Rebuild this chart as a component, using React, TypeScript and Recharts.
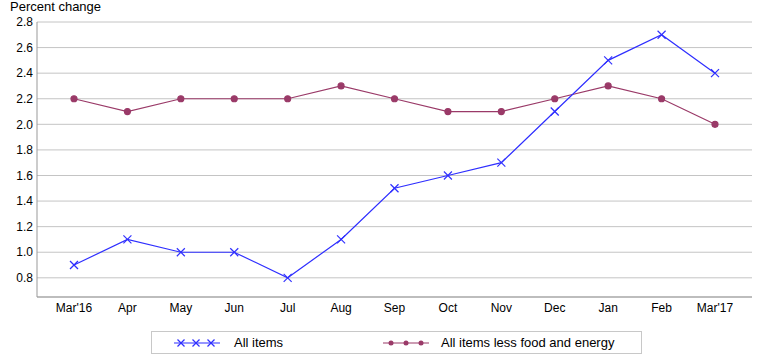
import { LineChart, Line, XAxis, YAxis, CartesianGrid } from 'recharts';

const months = ["Mar'16", 'Apr', 'May', 'Jun', 'Jul', 'Aug', 'Sep', 'Oct', 'Nov', 'Dec', 'Jan', 'Feb', "Mar'17"];
const allItems = [0.9, 1.1, 1.0, 1.0, 0.8, 1.1, 1.5, 1.6, 1.7, 2.1, 2.5, 2.7, 2.4];
const coreItems = [2.2, 2.1, 2.2, 2.2, 2.2, 2.3, 2.2, 2.1, 2.1, 2.2, 2.3, 2.2, 2.0];
const yTicks = [0.8, 1.0, 1.2, 1.4, 1.6, 1.8, 2.0, 2.2, 2.4, 2.6, 2.8];

const data = months.map((m, i) => ({ month: m, all: allItems[i], core: coreItems[i] }));

const BLUE = '#2f2fff';
const MAROON = '#9a3a68';
const GRID = '#c4c4c4';
const FONT = '"Liberation Sans", Arial, sans-serif';

const XMark = (props: any) => {
    const { cx, cy } = props;
    if (cx == null || cy == null) return null;
    return (
        <g key={`x-${cx}`}>
            <line x1={cx - 4} y1={cy - 4} x2={cx + 4} y2={cy + 4} stroke={BLUE} strokeWidth={1.2} />
            <line x1={cx - 4} y1={cy + 4} x2={cx + 4} y2={cy - 4} stroke={BLUE} strokeWidth={1.2} />
        </g>
    );
};

export default function App() {
    return (
        <div style={{ position: 'absolute', left: 0, top: 0, width: 775, height: 359, background: '#fff', fontFamily: FONT }}>
            <div style={{ position: 'absolute', left: 10, top: -1, fontSize: 13, color: '#000' }}>Percent change</div>
            <LineChart width={775} height={359} data={data} margin={{ top: 22, right: 23, left: 0, bottom: 32 }}>
                <CartesianGrid vertical={false} stroke={GRID} />
                <XAxis
                    dataKey="month"
                    padding={{ left: 37, right: 37 }}
                    tickLine={false}
                    tickSize={0}
                    tickMargin={6}
                    height={30}
                    axisLine={{ stroke: '#999' }}
                    tick={{ fill: '#000', fontSize: 12, fontFamily: FONT }}
                    interval={0}
                />
                <YAxis
                    domain={[0.65, 2.8]}
                    allowDataOverflow
                    ticks={yTicks}
                    width={37}
                    tickLine={false}
                    tickSize={0}
                    tickMargin={4}
                    axisLine={{ stroke: '#999' }}
                    tickFormatter={(v: number) => v.toFixed(1)}
                    tick={{ fill: '#000', fontSize: 12, fontFamily: FONT }}
                />
                <YAxis yAxisId="right" orientation="right" width={0} tick={false} tickLine={false} axisLine={{ stroke: '#999' }} />
                <Line
                    dataKey="core"
                    stroke={MAROON}
                    strokeWidth={1.2}
                    dot={{ r: 3, fill: MAROON, stroke: MAROON }}
                    isAnimationActive={false}
                />
                <Line
                    dataKey="all"
                    stroke={BLUE}
                    strokeWidth={1.2}
                    dot={XMark}
                    isAnimationActive={false}
                />
            </LineChart>
            <div
                style={{
                    position: 'absolute',
                    left: 151,
                    top: 331,
                    width: 489,
                    height: 21,
                    border: '1px solid #c8c8c8',
                    fontSize: 13,
                    color: '#000',
                }}
            >
                <svg style={{ position: 'absolute', left: 22, top: 4 }} width={46} height={14}>
                    <line x1={0} y1={7} x2={46} y2={7} stroke={BLUE} strokeWidth={1.2} />
                    {[7, 22, 37].map((x) => (
                        <g key={x}>
                            <line x1={x - 3.5} y1={3.5} x2={x + 3.5} y2={10.5} stroke={BLUE} strokeWidth={1.2} />
                            <line x1={x - 3.5} y1={10.5} x2={x + 3.5} y2={3.5} stroke={BLUE} strokeWidth={1.2} />
                        </g>
                    ))}
                </svg>
                <span style={{ position: 'absolute', left: 82, top: 3 }}>All items</span>
                <svg style={{ position: 'absolute', left: 231, top: 4 }} width={46} height={14}>
                    <line x1={0} y1={7} x2={46} y2={7} stroke={MAROON} strokeWidth={1.2} />
                    {[8, 23, 38].map((x) => (
                        <circle key={x} cx={x} cy={7} r={2.5} fill={MAROON} />
                    ))}
                </svg>
                <span style={{ position: 'absolute', left: 289, top: 3 }}>All items less food and energy</span>
            </div>
        </div>
    );
}
